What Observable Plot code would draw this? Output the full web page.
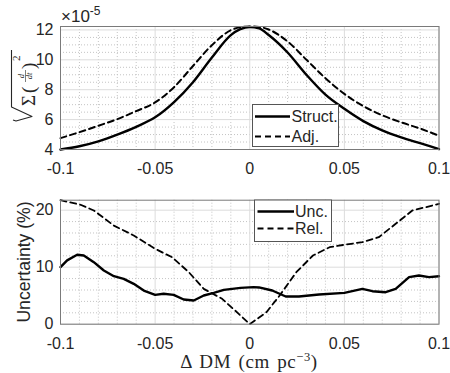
<!DOCTYPE html>
<html><head><meta charset="utf-8">
<script src="https://cdn.jsdelivr.net/npm/d3@7"></script>
<script src="https://cdn.jsdelivr.net/npm/@observablehq/plot@0.6"></script>
<style>
body{margin:0;background:#fff;}
#wrap{position:relative;width:450px;height:373px;overflow:hidden;background:#fff;}
#top,#bot{position:absolute;left:0;}
#top{top:0px}
#bot{top:186px}
#ov{position:absolute;left:0;top:0;pointer-events:none;}
</style></head><body>
<div id="wrap"><div id="top"></div><div id="bot"></div>
<svg id="ov" width="450" height="373"></svg></div>
<script>
// ---- data (top panel values in units of 1e-5) ----
const dmTop = [-0.1,-0.09,-0.08,-0.07,-0.06,-0.05,-0.04,-0.03,-0.02,-0.01,-0.005,0,0.005,0.01,0.02,0.03,0.04,0.05,0.06,0.07,0.08,0.09,0.1];
const structVals = [4.00,4.22,4.55,5.00,5.52,6.15,7.17,8.50,10.15,11.65,12.05,12.20,12.10,11.66,10.49,8.99,7.67,6.72,5.90,5.28,4.81,4.42,4.03];
const adjVals    = [4.76,5.16,5.59,6.03,6.57,7.15,8.17,9.59,10.98,11.98,12.18,12.23,12.20,12.03,11.23,10.00,8.77,7.72,6.90,6.29,5.82,5.40,4.92];

const uncX = [-0.1,-0.0965,-0.0912,-0.0877,-0.0824,-0.0771,-0.0718,-0.0666,-0.0613,-0.056,-0.05,-0.0455,-0.0402,-0.0349,-0.0296,-0.0243,-0.019,-0.0137,-0.0049,0.002,0.0049,0.0119,0.019,0.026,0.0366,0.05,0.0595,0.0648,0.0718,0.0771,0.0842,0.0894,0.0947,0.1];
const uncVals = [10.0,11.2,12.17,12.05,10.88,9.42,8.42,7.96,7.08,5.91,5.15,5.33,5.15,4.33,4.16,5.03,5.5,6.03,6.38,6.5,6.45,5.91,4.86,4.86,5.21,5.5,6.2,5.79,5.61,6.2,8.25,8.54,8.25,8.42];
const relX = [-0.1,-0.0894,-0.0824,-0.0718,-0.0613,-0.05,-0.041,-0.0322,-0.0243,-0.0146,-0.0058,0,0.0088,0.0158,0.0246,0.0334,0.0422,0.05,0.0595,0.0682,0.0771,0.0859,0.093,0.1];
const relVals = [21.75,20.95,19.95,17.3,15.56,13.22,11.75,9.12,6.2,4.45,1.82,0,2.1,5.03,9.12,12.05,13.5,13.93,14.39,15.26,17.61,19.95,20.53,21.12];

const xTicks = [-0.1,-0.05,0,0.05,0.1];
const xTickLabels = ["-0.1","-0.05","0","0.05","0.1"];
const topYTicks = [4,6,8,10,12];
const botYTicks = [0,10,20];
const topSeries = ["Struct.","Adj."];
const botSeries = ["Unc.","Rel."];

const topData = dmTop.map((x,i)=>({x, s: structVals[i], a: adjVals[i]}));
const uncData = uncX.map((x,i)=>({x, y: uncVals[i]}));
const relData = relX.map((x,i)=>({x, y: relVals[i]}));

const minorX = d3.range(-9,10).filter(i=>i%5!==0).map(i=>i/100);
const topMinorY = d3.range(9,25).map(i=>i/2).filter(v=>v%2!==0);
const botMinorY = [2,4,6,8,12,14,16,18];

const FONT = "Liberation Sans, Arial, Helvetica, sans-serif";

function panel({height, mt, mb, yDomain, yTicks, minorY, marks}) {
  return Plot.plot({
    width: 450, height, marginLeft: 60, marginRight: 11.5, marginTop: mt, marginBottom: mb,
    x: {type: "linear", domain: [-0.1, 0.1]},
    y: {type: "linear", domain: yDomain},
    style: {fontFamily: FONT, fontSize: "16px", color: "#262626", background: "white", overflow: "visible"},
    marks: [
      Plot.ruleX(minorX, {x: d=>d, stroke: "#c4c4c4", strokeDasharray: "1,2"}),
      Plot.ruleY(minorY, {y: d=>d, stroke: "#c4c4c4", strokeDasharray: "1,2"}),
      Plot.ruleX(xTicks, {x: d=>d, stroke: "#dcdcdc"}),
      Plot.ruleY(yTicks, {y: d=>d, stroke: "#dcdcdc"}),
      ...marks,
      Plot.frame({stroke: "#7a7a7a"}),
      Plot.axisX(xTicks, {tickSize: 0, tickPadding: 13, fontSize: 16, label: null,
        tickFormat: d => xTickLabels[xTicks.indexOf(d)]}),
      Plot.axisY(yTicks, {tickSize: 0, tickPadding: 7, fontSize: 16, label: null,
        tickFormat: d => String(d)})
    ]
  });
}

const topPlot = panel({
  height: 186, mt: 26, mb: 37,
  yDomain: [d3.min(structVals), d3.max(adjVals)],
  yTicks: topYTicks, minorY: topMinorY,
  marks: [
    Plot.line(topData, {x: "x", y: "a", stroke: "black", strokeWidth: 2, strokeDasharray: "6,4", curve: "monotone-x"}),
    Plot.line(topData, {x: "x", y: "s", stroke: "black", strokeWidth: 2.4, curve: "monotone-x"})
  ]
});
document.getElementById("top").appendChild(topPlot);

const botPlot = panel({
  height: 187, mt: 13.7, mb: 49.3,
  yDomain: [0, d3.max(relVals)],
  yTicks: botYTicks, minorY: botMinorY,
  marks: [
    Plot.line(relData, {x: "x", y: "y", stroke: "black", strokeWidth: 1.8, strokeDasharray: "6,4"}),
    Plot.line(uncData, {x: "x", y: "y", stroke: "black", strokeWidth: 2.4})
  ]
});
document.getElementById("bot").appendChild(botPlot);

// ---- overlay: labels & legends ----
const ov = d3.select("#ov");
// multiplier
const mult = ov.append("text").attr("x", 61).attr("y", 22).attr("font-family", FONT).attr("font-size", 17).attr("fill", "#262626");
mult.append("tspan").text("×10");
mult.append("tspan").attr("font-size", 12).attr("dy", -7).text("-5");

// bottom y label
ov.append("text").attr("transform", "translate(30,262) rotate(-90)").attr("text-anchor", "middle")
  .attr("font-family", FONT).attr("font-size", 17.6).attr("fill", "#262626").text("Uncertainty (%)");

// top y label: sqrt(Sigma (d/dt)^2)
const SERIF = "Liberation Serif, DejaVu Serif, serif";
ov.append("path").attr("d", "M13,120 L16,121 L32,116.5 L11.5,107 L11.5,50")
  .attr("fill", "none").attr("stroke", "#262626").attr("stroke-width", 1.1).attr("stroke-linejoin", "round");
const g = ov.append("g").attr("transform", "translate(35,84) rotate(-90)").attr("fill", "#262626").attr("font-family", SERIF);
g.append("text").attr("x", -22).attr("y", 0).attr("font-size", 19).text("Σ");
g.append("text").attr("x", -9).attr("y", 0).attr("font-size", 19).text("(");
g.append("text").attr("x", 8).attr("y", -11).attr("font-size", 8.5).attr("font-style", "italic").attr("text-anchor", "middle").text("d");
g.append("line").attr("x1", 2).attr("x2", 14).attr("y1", -9.5).attr("y2", -9.5).attr("stroke", "#262626").attr("stroke-width", 0.6);
g.append("text").attr("x", 8).attr("y", -3).attr("font-size", 8.5).attr("font-style", "italic").attr("text-anchor", "middle").text("dt");
g.append("text").attr("x", 15).attr("y", 0).attr("font-size", 19).text(")");
g.append("text").attr("x", 23).attr("y", -15).attr("font-size", 11).text("2");

// x label
const xl = ov.append("text").attr("x", 249).attr("y", 367.5).attr("text-anchor", "middle")
  .attr("font-family", SERIF).attr("font-size", 19).attr("letter-spacing", 0.6).attr("word-spacing", 2).attr("fill", "#262626");
xl.append("tspan").text("Δ DM (cm pc");
xl.append("tspan").attr("font-size", 12.5).attr("dy", -7).text("−3");
xl.append("tspan").attr("dy", 7).text(")");

// legends
function legend(x, y, w, h, rows, names) {
  ov.append("rect").attr("x", x + 0.5).attr("y", y + 0.5).attr("width", w).attr("height", h)
    .attr("fill", "white").attr("stroke", "#555").attr("stroke-width", 1);
  rows.forEach((r, i) => {
    ov.append("line").attr("x1", r.lx1).attr("x2", r.lx2).attr("y1", r.ly).attr("y2", r.ly)
      .attr("stroke", "black").attr("stroke-width", i === 0 ? 2.4 : 1.9)
      .attr("stroke-dasharray", i === 0 ? null : "6,4");
    ov.append("text").attr("x", r.tx).attr("y", r.ty).attr("font-family", FONT).attr("font-size", 16)
      .attr("fill", "#262626").text(names[i]);
  });
}
legend(252, 104, 86, 42, [
  {lx1: 255, lx2: 290, ly: 116.5, tx: 291.5, ty: 122},
  {lx1: 255, lx2: 290, ly: 136.5, tx: 291.5, ty: 142}
], topSeries);
legend(254, 199.5, 77, 41.5, [
  {lx1: 257.5, lx2: 294, ly: 211.5, tx: 295, ty: 217},
  {lx1: 257.5, lx2: 294, ly: 228.5, tx: 295, ty: 234}
], botSeries);
</script>
</body></html>
